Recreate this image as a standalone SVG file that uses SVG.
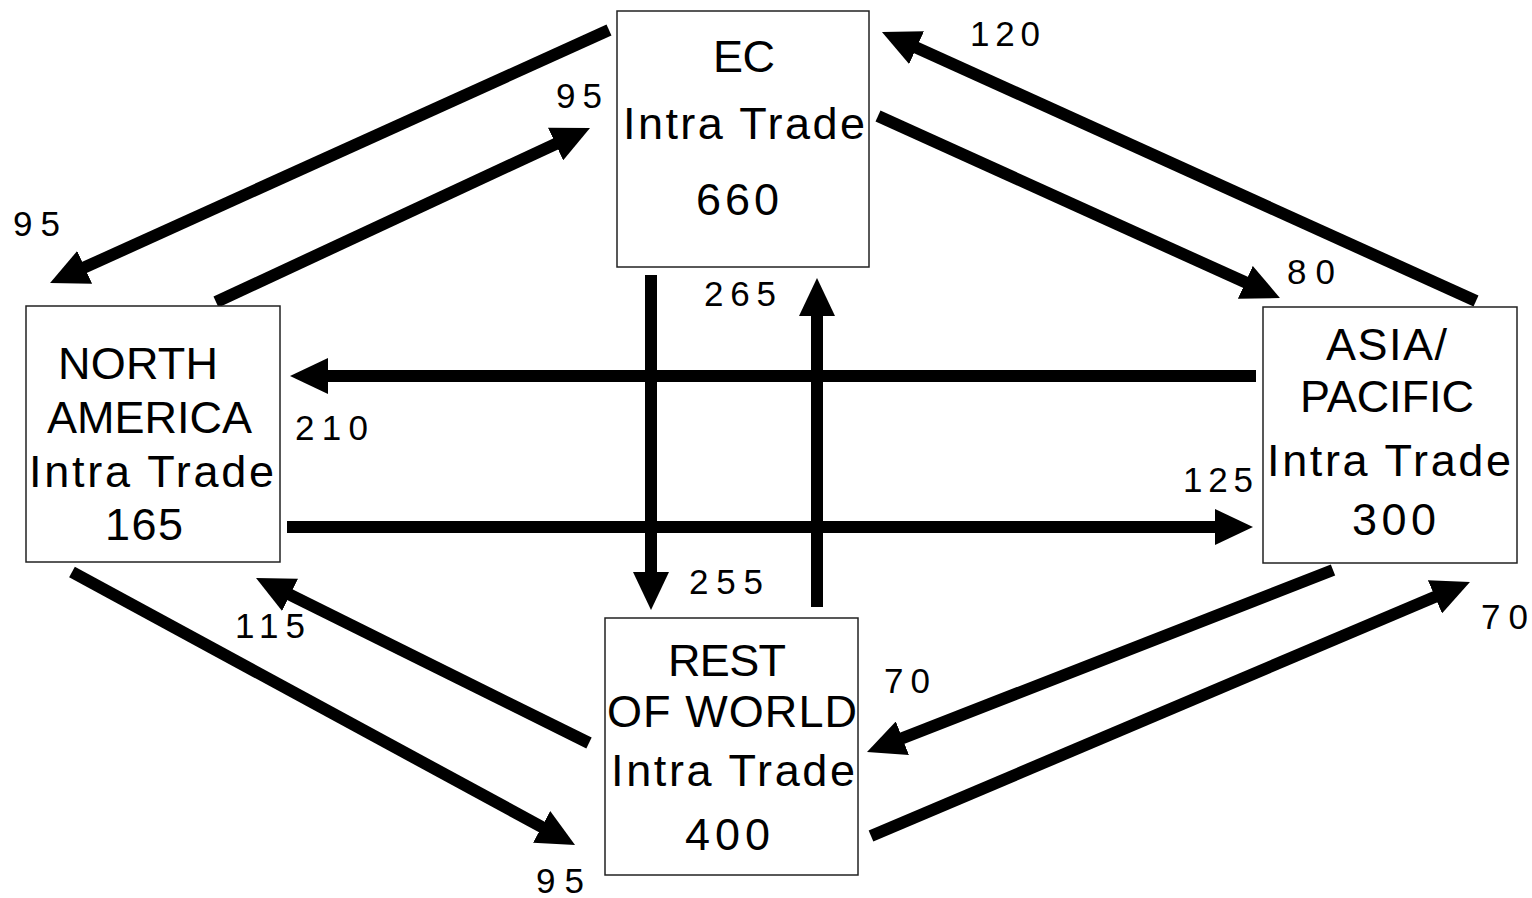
<svg xmlns="http://www.w3.org/2000/svg" width="1532" height="898" viewBox="0 0 1532 898">
<style>
.box{fill:#fff;stroke:#222;stroke-width:1.5}
.t{font-family:"Liberation Sans",Arial,Helvetica,sans-serif;font-size:45px;fill:#000}
.lb{font-family:"Liberation Sans",Arial,Helvetica,sans-serif;font-size:35px;fill:#000}
.c line{stroke:#000;stroke-width:12;marker-end:url(#ah)}
</style>
<defs>
<marker id="ah" markerUnits="userSpaceOnUse" viewBox="0 0 38 36" markerWidth="38" markerHeight="36" refX="6" refY="18" orient="auto">
<path d="M0,0 L38,18 L0,36 z" fill="#000"/>
</marker>
</defs>
<rect width="1532" height="898" fill="#fff"/>
<g id="connectors" class="c">
<line x1="609" y1="30" x2="79.2" y2="269.8"/>
<line x1="216" y1="302" x2="561" y2="141.5"/>
<line x1="1476" y1="301" x2="911.1" y2="45.2"/>
<line x1="878" y1="116" x2="1250.8" y2="284.8"/>
<line x1="651" y1="275" x2="651" y2="578"/>
<line x1="817" y1="607" x2="817" y2="310"/>
<line x1="1256" y1="376" x2="322" y2="376"/>
<line x1="287" y1="527" x2="1221" y2="527"/>
<line x1="72" y1="572" x2="546.9" y2="829.7"/>
<line x1="589" y1="743" x2="284.7" y2="592.2"/>
<line x1="1333" y1="570" x2="896.8" y2="740.4"/>
<line x1="871" y1="836" x2="1440.5" y2="594.5"/>
</g>
<g id="labels">
<text class="lb" x="13" y="236" textLength="47">95</text>
<text class="lb" x="556" y="108" textLength="46">95</text>
<text class="lb" x="970" y="46" textLength="70">120</text>
<text class="lb" x="1287" y="284" textLength="48">80</text>
<text class="lb" x="704" y="306" textLength="72">265</text>
<text class="lb" x="295" y="440" textLength="73">210</text>
<text class="lb" x="1183" y="492" textLength="70">125</text>
<text class="lb" x="689" y="594" textLength="74">255</text>
<text class="lb" x="235" y="638" textLength="70">115</text>
<text class="lb" x="884" y="693" textLength="46">70</text>
<text class="lb" x="1481" y="629" textLength="47">70</text>
<text class="lb" x="536" y="893" textLength="48">95</text>
</g>
<g id="ec">
<rect class="box" x="617" y="11" width="252" height="256"/>
<text class="t" x="713" y="72" textLength="62">EC</text>
<text class="t" x="623" y="139" textLength="242">Intra Trade</text>
<text class="t" x="696" y="215" textLength="83">660</text>
</g>
<g id="north-america">
<rect class="box" x="26" y="306" width="254" height="256"/>
<text class="t" x="58" y="379" textLength="160">NORTH</text>
<text class="t" x="47" y="433" textLength="205">AMERICA</text>
<text class="t" x="29" y="487" textLength="245">Intra Trade</text>
<text class="t" x="105" y="540" textLength="78">165</text>
</g>
<g id="asia-pacific">
<rect class="box" x="1263" y="307" width="254" height="256"/>
<text class="t" x="1326" y="360" textLength="121">ASIA/</text>
<text class="t" x="1300" y="412" textLength="174">PACIFIC</text>
<text class="t" x="1267" y="476" textLength="244">Intra Trade</text>
<text class="t" x="1352" y="535" textLength="84">300</text>
</g>
<g id="rest-of-world">
<rect class="box" x="605" y="618" width="253" height="257"/>
<text class="t" x="668" y="676" textLength="118">REST</text>
<text class="t" x="607" y="727" textLength="250">OF WORLD</text>
<text class="t" x="611" y="786" textLength="244">Intra Trade</text>
<text class="t" x="685" y="850" textLength="85">400</text>
</g>
</svg>
